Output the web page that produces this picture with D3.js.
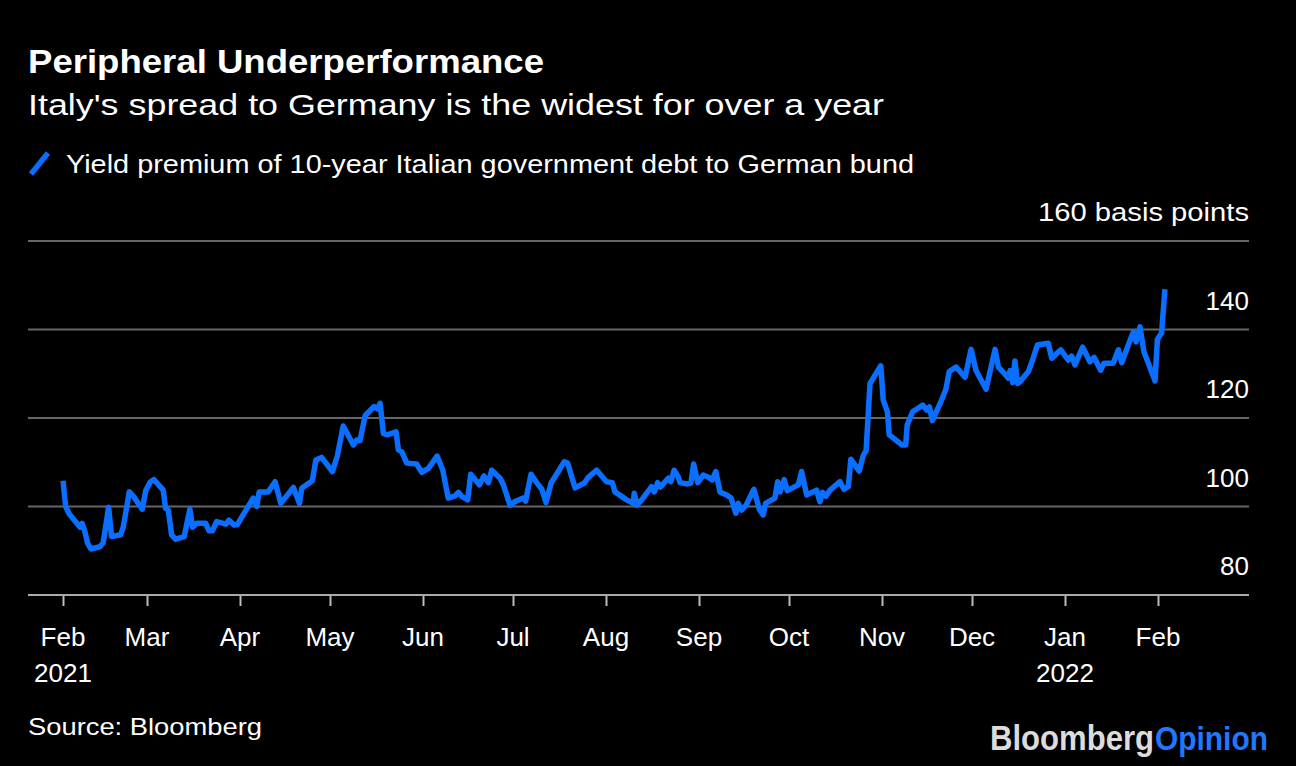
<!DOCTYPE html>
<html>
<head>
<meta charset="utf-8">
<script src="https://cdn.jsdelivr.net/npm/d3@7"></script>
<style>
  html, body { margin: 0; padding: 0; background: #000; }
  svg { display: block; }
  text { font-family: "Liberation Sans", Arial, Helvetica, sans-serif; fill: #fff; }
</style>
</head>
<body>
<svg id="chart" width="1296" height="766"></svg>
<script>
// ---- Data ----
const title = "Peripheral Underperformance";
const subtitle = "Italy's spread to Germany is the widest for over a year";
const seriesName = "Yield premium of 10-year Italian government debt to German bund";
const sourceText = "Source: Bloomberg";
const unitLabel = "basis points";

const startDate = new Date(2021, 1, 1);
const endDate = new Date(2022, 1, 1);

// days after 1 Feb 2021
const dayOffsets = [
  0, 0.9, 2.1, 5.1, 5.7, 6.4, 7.3, 8.2, 9.3, 12.3, 13.4, 15.2, 16.2, 19.2, 20.1, 22.1, 23.7, 26.4, 27.6, 29,
  30.3, 33.4, 34.2, 35.1, 36.2, 37.6, 40.4, 42.3, 43.2, 44.6, 47.6, 48.7, 49.8, 51.2, 54.3, 55.3, 57.1, 58.1, 63.4, 64.6,
  65.4, 68.4, 70.7, 72.6, 76.8, 78.8, 79.6, 83.1, 84.3, 86.2, 89.8, 91.4, 93.4, 96.8, 97.9, 99, 100.7, 103.7, 104.9, 105.7,
  106.8, 108.1, 111, 111.8, 112.9, 114.6, 117.9, 119.6, 121.8, 124.7, 126.6, 128.4, 130.7, 131.8, 132.9, 134.9, 135.9, 138.8, 140.3, 141.8,
  142.9, 145.7, 146.8, 149, 150.7, 153.4, 154.2, 156, 157.9, 159.6, 161, 162.7, 165.1, 167.1, 168.2, 170.7, 173.8, 175.1, 177.9, 181.2,
  183.1, 184, 187.9, 190.1, 190.4, 191.3, 192.9, 196.2, 197.1, 198.2, 199.1, 201.8, 202.6, 203.7, 205.1, 205.7, 208.2, 209.3, 210.2, 211.6,
  213.4, 215.1, 216.4, 217.6, 219, 221.2, 222.7, 224.3, 225.1, 226.2, 227.7, 230.3, 232.1, 233.4, 234.2, 237.3, 238.2, 239, 240.4, 241.4,
  245.1, 246.2, 247.9, 251.2, 252.3, 253.2, 254.3, 255.7, 259, 260.3, 261.8, 262.6, 265.4, 266.8, 267.7, 269, 272.6, 273.4, 274.8, 275.4,
  276.2, 279.6, 280.9, 281.4, 283.2, 286.6, 287.9, 288.8, 289.8, 292.9, 294.3, 295.4, 297.7, 300.7, 302.7, 304.3, 307.7, 309, 310.7, 311.8,
  314, 315.1, 315.7, 316.6, 317.3, 318.2, 319, 321.8, 323.2, 324.8, 328.4, 329.6, 332.6, 335.1, 336.2, 337.3, 339.9, 342.3, 343.7, 345.9,
  347, 350.1, 351.8, 352.9, 355.1, 356.8, 357.7, 359, 360.3, 364, 364.8, 366.2, 367.3
];
const spreadBp = [
  105.8, 100.0, 98.3, 95.8, 95.3, 96.2, 94.3, 91.7, 90.4, 90.9, 91.8, 99.8, 93.2, 93.6, 95.4, 103.3, 102.1, 99.4, 103.6, 105.5,
  106.1, 103.7, 99.6, 99.2, 93.6, 92.6, 93.2, 99.4, 95.3, 96.2, 96.2, 94.5, 94.5, 96.6, 96.0, 96.9, 95.8, 95.9, 101.9, 100.0,
  103.3, 103.3, 105.6, 100.7, 104.3, 100.7, 104.1, 105.8, 110.5, 111.1, 107.9, 111.3, 118.2, 113.9, 115.0, 114.9, 120.5, 122.6, 122.0, 123.3,
  116.5, 116.2, 116.9, 112.8, 112.4, 109.8, 109.6, 107.7, 108.6, 111.4, 108.2, 101.9, 102.4, 103.2, 102.3, 101.5, 107.3, 104.9, 106.9, 105.4,
  108.2, 106.4, 104.9, 100.3, 101.1, 101.9, 101.2, 107.3, 105.4, 103.9, 100.9, 105.3, 107.9, 110.1, 109.8, 104.2, 105.3, 106.6, 108.2, 105.6,
  105.4, 103.3, 101.5, 100.7, 103.0, 100.3, 101.5, 104.5, 103.3, 105.4, 104.4, 106.4, 105.6, 108.2, 106.7, 105.4, 105.1, 105.3, 109.6, 105.4,
  107.1, 106.6, 106.0, 107.9, 103.3, 102.6, 101.9, 98.5, 100.7, 99.2, 100.3, 103.9, 99.4, 98.1, 100.7, 101.9, 105.6, 103.3, 106.1, 103.6,
  104.9, 107.9, 102.6, 103.7, 101.1, 103.2, 102.3, 103.7, 105.6, 103.9, 104.5, 110.7, 108.0, 111.6, 112.6, 127.8, 131.8, 124.1, 121.4, 116.2,
  115.8, 113.9, 113.9, 118.4, 121.4, 122.9, 121.8, 122.5, 119.4, 124.1, 126.5, 130.5, 131.5, 129.2, 135.5, 130.8, 126.5, 130.5, 135.5, 131.5,
  129.9, 129.0, 130.7, 128.0, 132.9, 127.8, 128.2, 130.5, 133.1, 136.5, 136.9, 133.5, 135.4, 133.1, 134.0, 132.0, 136.0, 132.7, 133.7, 130.8,
  132.4, 132.4, 135.4, 132.5, 136.5, 139.5, 137.2, 140.6, 135.0, 128.4, 137.8, 139.2, 149.1
];
const yTicks = [80, 100, 120, 140, 160];

// ---- Layout ----
const svg = d3.select("#chart");
const W = 1296, H = 766;
svg.append("rect").attr("width", W).attr("height", H).attr("fill", "#000");

const left = 28, right = 1249;
const x = d3.scaleTime().domain([startDate, endDate]).range([63, 1158]);
const y = d3.scaleLinear().domain([80, 160]).range([595, 241]);

function fitText(sel, width) {
  sel.attr("textLength", width).attr("lengthAdjust", "spacingAndGlyphs");
  return sel;
}

// Title block
fitText(svg.append("text").attr("x", left).attr("y", 73)
  .attr("font-size", 34).attr("font-weight", "bold").text(title), 516);
fitText(svg.append("text").attr("x", left).attr("y", 115)
  .attr("font-size", 30).text(subtitle), 856);

// Legend
svg.append("line").attr("x1", 31).attr("y1", 174).attr("x2", 48).attr("y2", 153)
  .attr("stroke", "#0a6fff").attr("stroke-width", 5.5);
fitText(svg.append("text").attr("x", 66).attr("y", 173)
  .attr("font-size", 26).text(seriesName), 848);

// Gridlines
svg.append("g").selectAll("line").data(yTicks.filter(d => d !== 80)).join("line")
  .attr("x1", left).attr("x2", right)
  .attr("y1", d => y(d)).attr("y2", d => y(d))
  .attr("stroke", "#666").attr("stroke-width", 2);

// Y labels (above gridlines, right aligned)
const yl = svg.append("g").selectAll("text").data(yTicks).join("text")
  .attr("x", right).attr("y", d => y(d) - 20)
  .attr("text-anchor", "end").attr("font-size", 26)
  .text(d => d === 160 ? `${d} ${unitLabel}` : d);
yl.filter(d => d === 160).attr("textLength", 211).attr("lengthAdjust", "spacingAndGlyphs");

// X axis
const xAxis = d3.axisBottom(x)
  .ticks(d3.timeMonth.every(1))
  .tickSize(11)
  .tickFormat("");
const gx = svg.append("g").attr("transform", "translate(0,595)").call(xAxis);
gx.select(".domain").remove();
gx.selectAll(".tick line").attr("stroke", "#bbb").attr("stroke-width", 2);
svg.append("line").attr("x1", left).attr("x2", right).attr("y1", 595).attr("y2", 595)
  .attr("stroke", "#aaa").attr("stroke-width", 2);

const months = d3.timeMonth.range(startDate, d3.timeDay.offset(endDate, 1));
const fmtMonth = d3.timeFormat("%b"), fmtYear = d3.timeFormat("%Y");
svg.append("g").selectAll("text").data(months).join("text")
  .attr("x", d => x(d)).attr("y", 646).attr("text-anchor", "middle")
  .attr("font-size", 26).text(d => fmtMonth(d));
svg.append("g").selectAll("text")
  .data(months.filter((d, i) => i === 0 || d.getMonth() === 0)).join("text")
  .attr("x", d => x(d)).attr("y", 682).attr("text-anchor", "middle")
  .attr("font-size", 26).text(d => fmtYear(d));

// Line
const pts = dayOffsets.map((d, i) => ({ date: new Date(startDate.getTime() + d * 864e5), v: spreadBp[i] }));
const line = d3.line().x(d => x(d.date)).y(d => y(d.v));
svg.append("path").datum(pts).attr("d", line)
  .attr("fill", "none").attr("stroke", "#0a6fff").attr("stroke-width", 5.5)
  .attr("stroke-linejoin", "round").attr("stroke-linecap", "butt");

// Source
fitText(svg.append("text").attr("x", left).attr("y", 735)
  .attr("font-size", 24).text(sourceText), 234);

// Logo (two words side by side, stretched vertically)
const logoG = svg.append("g").attr("transform", "translate(0,750) scale(1,1.12)");
fitText(logoG.append("text").attr("x", 990).attr("y", 0)
  .attr("font-size", 30.5).attr("font-weight", "bold")
  .style("fill", "#dcdcdc").text("Bloomberg"), 164);
fitText(logoG.append("text").attr("x", 1155).attr("y", 0)
  .attr("font-size", 30).attr("font-weight", "bold")
  .style("fill", "#1f78ff").text("Opinion"), 113);
</script>
</body>
</html>
